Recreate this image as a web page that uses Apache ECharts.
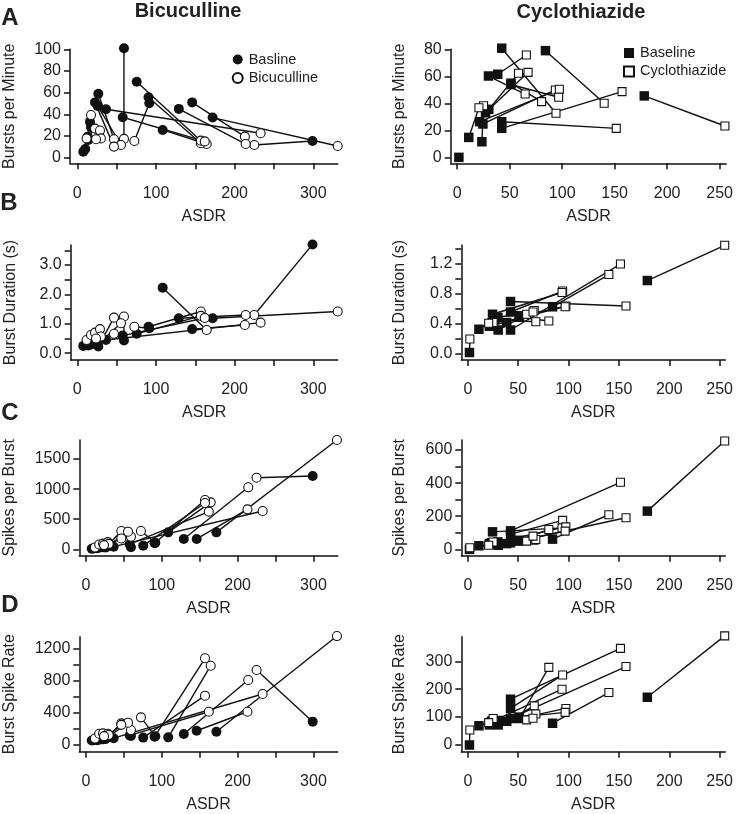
<!DOCTYPE html>
<html><head><meta charset="utf-8">
<script src="https://cdn.jsdelivr.net/npm/echarts@6/dist/echarts.min.js"></script>
<style>html,body{margin:0;padding:0;background:#fff}#c{width:736px;height:814px}</style>
</head><body><div id="c"></div>
<script>
// ---------------- DATA ----------------
// Bicuculline: each index is one cell (baseline -> bicuculline)
const bicAsdrBase = [299,172,146,129,108.5,90.5,91.5,75.5,59.3,57.7,36.5,26.7,25.9,22.5,7.6,10,13.2,16.1,17.4,14];
const bicAsdrDrug = [225,331,213,214,164.5,157,72.5,157,59.3,162,233,46.6,55.5,46.6,11.8,17.4,22.5,28.8,30,23.8];
const bicBpmBase  = [15.4,37,51,45,25.6,55.8,50.2,70,101,37.3,44.7,59,47.7,51,5.5,8,19.4,33,28,16.3];
const bicBpmDrug  = [11.7,10.8,19.4,12.6,12.6,13.3,15.4,15.7,17.3,15,22.5,17,11.7,10.2,17.8,39.4,26.8,25,17.8,17];
const bicDurBase  = [3.70,1.19,0.82,1.19,2.23,0.90,0.85,0.66,0.43,0.60,0.45,0.23,0.30,0.35,0.25,0.27,0.28,0.33,0.30,0.26];
const bicDurDrug  = [1.30,1.42,0.96,1.30,0.79,1.42,0.90,1.27,1.25,1.20,1.04,1.21,1.02,0.66,0.45,0.62,0.70,0.82,0.57,0.50];
const bicSpkBase  = [1218,282,172,172,282,100,110,61,33,85,44,40,30,35,10,15,20,30,25,18];
const bicSpkDrug  = [1190,1816,664,1030,780,820,305,770,210,626,637,305,293,180,30,80,95,120,90,70];
const bicRateBase = [290,165,177,136,95,103,108,92,112,120,85,80,75,70,55,60,62,70,65,58];
const bicRateDrug = [931,1352,413,807,984,1076,343,612,186,413,633,269,277,250,80,140,145,140,125,110];

// Cyclothiazide: each index is one cell (baseline -> cyclothiazide); null = not shown
const cycAsdrBase = [178.2,84.1,42.4,42.4,42.4,38.6,51.2,27,30.1,24.5,21.4,23.5,11,29.8,1.6,51];
const cycAsdrDrug = [255,140,94.1,151.5,157,65.9,80.4,67.5,58.4,93.5,97.3,25.1,20.7,64.7,2,96.6];
const cycBpmBase  = [45.6,79,80.8,26.6,21.7,61.6,55,33.2,35.7,24.9,26.6,11.8,15,60.3,0.3,54];
const cycBpmDrug  = [23.4,40.2,32.8,21.7,48.8,75.8,41.4,63,62.3,50,50.5,38.4,36.9,47,null,44.6];
const cycDurBase  = [0.97,0.62,0.55,0.31,0.69,0.41,0.48,0.45,0.31,0.52,0.36,0.40,0.32,0.48,0.01,0.50];
const cycDurDrug  = [1.44,1.05,0.83,1.19,0.63,0.57,0.43,0.42,0.52,0.81,0.63,0.41,0.40,0.55,0.19,0.62];
const cycSpkBase  = [231,62,92,112,40,35,55,40,25,106,35,40,22,45,0,50];
const cycSpkDrug  = [654,209,175,405,191,56,120,60,50,130,136,45,25,80,10,110];
const cycRateBase = [171,78,131,164,95,85,95,80,72,85,72,85,69,88,0,100];
const cycRateDrug = [391,188,251,346,281,140,278,111,90,200,131,95,80,96,54,117];

// Tick labels / tick positions
const bicXLabels = [0,100,200,300];
const bicXTicks  = [0,50,100,150,200,250,300];
const cycXLabels = [0,50,100,150,200,250];
const cycXTicks  = [0,50,100,150,200,250];
const bicBpmLabels = [0,20,40,60,80,100];
const bicDurLabels = [0,1,2,3];
const bicDurTicks  = [0,0.5,1,1.5,2,2.5,3,3.5];
const bicSpkLabels = [0,500,1000,1500];
const bicRateLabels = [0,400,800,1200];
const bicRateTicks  = [0,200,400,600,800,1000,1200];
const cycBpmLabels = [0,20,40,60,80];
const cycDurLabels = [0,0.4,0.8,1.2];
const cycDurTicks  = [0,0.2,0.4,0.6,0.8,1.0,1.2,1.4];
const cycSpkLabels = [0,200,400,600];
const cycSpkTicks  = [0,100,200,300,400,500,600];
const cycRateLabels = [0,100,200,300];

// ---------------- LAYOUT ----------------
const FONT = 'Liberation Sans, Arial, Helvetica, sans-serif';
const INK = '#111';
const TXT = '#222';
const panels = [
 {g:[70,49.3,267.7,114],   x:[-9.3,331], y:[-5.2,100],  xt:bicXTicks, xl:bicXLabels, yt:bicBpmLabels, yl:bicBpmLabels, dec:0, name:'Bursts per Minute', gap:52, set:'bic', xs:[bicAsdrBase,bicAsdrDrug], ys:[bicBpmBase,bicBpmDrug]},
 {g:[70.7,245,267,115],    x:[-8.4,331], y:[-0.23,3.68],xt:bicXTicks, xl:bicXLabels, yt:bicDurTicks, yl:bicDurLabels, dec:1, name:'Burst Duration (s)', gap:52.5, set:'bic', xs:[bicAsdrBase,bicAsdrDrug], ys:[bicDurBase,bicDurDrug]},
 {g:[79.3,440,258.4,115.7],x:[-8.8,332], y:[-106,1816], xt:bicXTicks, xl:bicXLabels, yt:bicSpkLabels, yl:bicSpkLabels, dec:0, name:'Spikes per Burst', gap:61.3, set:'bic', xs:[bicAsdrBase,bicAsdrDrug], ys:[bicSpkBase,bicSpkDrug]},
 {g:[79.3,636.7,258.4,115],x:[-8.8,332], y:[-83,1344],  xt:bicXTicks, xl:bicXLabels, yt:bicRateTicks, yl:bicRateLabels, dec:0, name:'Burst Spike Rate', gap:61.3, set:'bic', xs:[bicAsdrBase,bicAsdrDrug], ys:[bicRateBase,bicRateDrug]},
 {g:[450.7,49.3,279,114],  x:[-6.2,256.3], y:[-4.1,80], xt:cycXTicks, xl:cycXLabels, yt:cycBpmLabels, yl:cycBpmLabels, dec:0, name:'Bursts per Minute', gap:42.7, set:'cyc', xs:[cycAsdrBase,cycAsdrDrug], ys:[cycBpmBase,cycBpmDrug]},
 {g:[461.3,245,268.4,115], x:[-6.5,255.6], y:[-0.09,1.444], xt:cycXTicks, xl:cycXLabels, yt:cycDurTicks, yl:cycDurLabels, dec:1, name:'Burst Duration (s)', gap:53.3, set:'cyc', xs:[cycAsdrBase,cycAsdrDrug], ys:[cycDurBase,cycDurDrug]},
 {g:[461.3,440,268.4,115.7],x:[-6.5,255.6], y:[-38,660], xt:cycXTicks, xl:cycXLabels, yt:cycSpkTicks, yl:cycSpkLabels, dec:0, name:'Spikes per Burst', gap:53.3, set:'cyc', xs:[cycAsdrBase,cycAsdrDrug], ys:[cycSpkBase,cycSpkDrug]},
 {g:[461.3,636.7,268.4,115],x:[-6.5,255.6], y:[-24,388], xt:cycXTicks, xl:cycXLabels, yt:cycRateLabels, yl:cycRateLabels, dec:0, name:'Burst Spike Rate', gap:53.3, set:'cyc', xs:[cycAsdrBase,cycAsdrDrug], ys:[cycRateBase,cycRateDrug]}
];
const names = {bic:['Basline','Bicuculline'], cyc:['Baseline','Cyclothiazide']};
const shapes = {bic:'circle', cyc:'rect'};

const grid=[], xAxis=[], yAxis=[], series=[];
panels.forEach((p,i)=>{
  grid.push({left:p.g[0], top:p.g[1], width:p.g[2], height:p.g[3], containLabel:false});
  const lineStyle = {color:INK, width:1.5};
  xAxis.push({type:'value', gridIndex:i, min:p.x[0], max:p.x[1],
    name:'ASDR', nameLocation:'middle', nameGap:45,
    nameTextStyle:{fontSize:16, color:TXT, fontFamily:FONT},
    axisLine:{show:true, onZero:false, lineStyle},
    axisTick:{show:true, length:6, customValues:p.xt, lineStyle},
    axisLabel:{customValues:p.xl, fontSize:16, color:TXT, fontFamily:FONT, margin:22},
    splitLine:{show:false}});
  yAxis.push({type:'value', gridIndex:i, min:p.y[0], max:p.y[1],
    name:p.name, nameLocation:'middle', nameGap:p.gap, nameRotate:90,
    nameTextStyle:{fontSize:16, color:TXT, fontFamily:FONT},
    axisLine:{show:true, onZero:false, lineStyle},
    axisTick:{show:true, length:6, customValues:p.yt, lineStyle},
    axisLabel:{customValues:p.yl, fontSize:16, color:TXT, fontFamily:FONT, margin:9,
      formatter: v => p.dec ? Number(v).toFixed(p.dec) : String(v)},
    splitLine:{show:false}});
  const [xb,xd]=p.xs, [yb,yd]=p.ys;
  xb.forEach((_,k)=>{
    if (yd[k]==null || yb[k]==null) return;
    series.push({type:'line', xAxisIndex:i, yAxisIndex:i, data:[[xb[k],yb[k]],[xd[k],yd[k]]],
      symbol:'none', lineStyle:{color:INK, width:1.4}, silent:true, animation:false, z:2, clip:false});
  });
  const sh = shapes[p.set];
  series.push({type:'scatter', name:names[p.set][0], xAxisIndex:i, yAxisIndex:i,
    data:xb.map((v,k)=>[v,yb[k]]).filter(d=>d[1]!=null), symbol:sh, symbolSize:sh==='rect'?9.5:10,
    itemStyle:{color:INK, opacity:1}, z:3, animation:false, clip:false});
  series.push({type:'scatter', name:names[p.set][1], xAxisIndex:i, yAxisIndex:i,
    data:xd.map((v,k)=>[v,yd[k]]).filter(d=>d[1]!=null), symbol:sh, symbolSize:sh==='rect'?8:9,
    itemStyle:{color:'#fff', borderColor:INK, borderWidth:1.1, opacity:1}, z:4, animation:false, clip:false});
});

const txt = (text,x,y,size,bold,align)=>({type:'text', x, y, style:{text, x:0, y:0, fill:TXT,
  font:(bold?'bold ':'')+size+'px '+FONT, textAlign:align||'center', textVerticalAlign:'middle'}});

const option = {
  animation:false,
  backgroundColor:'#fff',
  grid, xAxis, yAxis, series,
  legend:[
    {data:[{name:'Basline',icon:'circle'},{name:'Bicuculline',icon:'circle'}], orient:'vertical',
     left:226.7, top:45.5, itemWidth:10, itemHeight:10, itemGap:0.4, selectedMode:false,
     textStyle:{fontSize:14.5, color:TXT, fontFamily:FONT, lineHeight:18, padding:[0,0,0,1]}},
    {data:[{name:'Baseline',icon:'rect'},{name:'Cyclothiazide',icon:'rect'}], orient:'vertical',
     left:618, top:39, itemWidth:10, itemHeight:10, itemGap:0.4, selectedMode:false,
     textStyle:{fontSize:14.5, color:TXT, fontFamily:FONT, lineHeight:18, padding:[0,0,0,1]}}
  ],
  graphic:[
    txt('Bicuculline',188,11,20,true),
    txt('Cyclothiazide',581,12,20,true),
    txt('A',10,18,24,true),
    txt('B',9,203,24,true),
    txt('C',10,413,24,true),
    txt('D',10,605,24,true)
  ]
};
const chart = echarts.init(document.getElementById('c'), null, {renderer:'canvas'});
chart.setOption(option);
</script>
</body></html>
